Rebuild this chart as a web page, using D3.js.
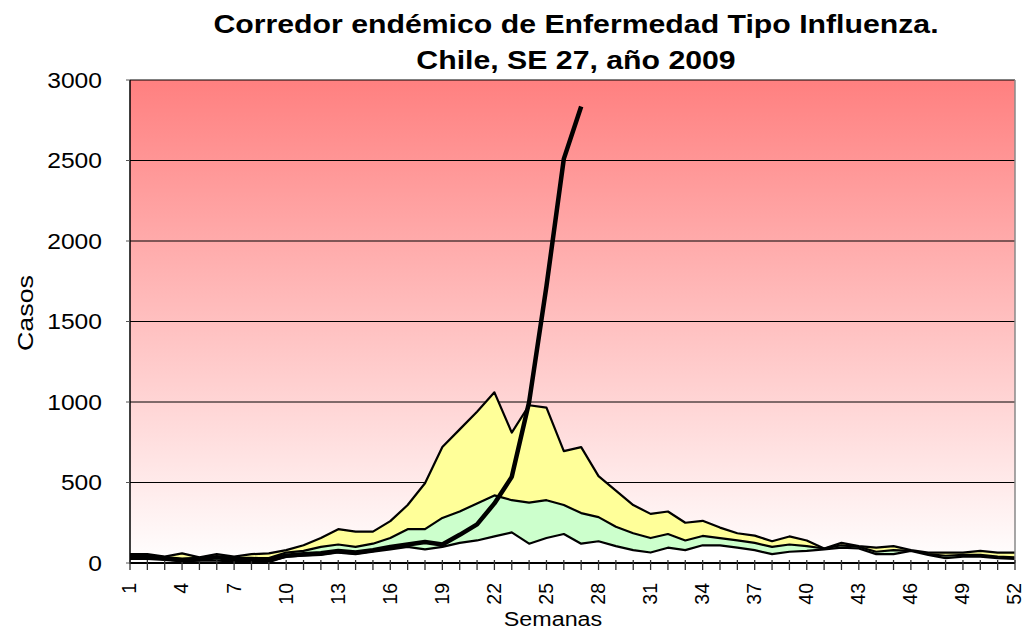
<!DOCTYPE html>
<html>
<head>
<meta charset="utf-8">
<script src="https://cdn.jsdelivr.net/npm/d3@7"></script>
<style>
  body { margin: 0; background: #fff; }
  svg text { font-family: "Liberation Sans", Arial, sans-serif; fill: #000; }
</style>
</head>
<body>
<svg id="chart" width="1024" height="632"></svg>
<script>
// semanas epidemiologicas 1..52
const weeks = d3.range(1, 53);
const weekTicks = d3.range(1, 53, 3);
const yTicks = [0, 500, 1000, 1500, 2000, 2500, 3000];

// limite superior (zona de alerta)
const upper = [55, 55, 40, 60, 35, 55, 40, 55, 60, 80, 110, 155, 210, 195, 195, 260, 360, 495,
  720, 830, 940, 1060, 810, 980, 965, 695, 720, 540, 450, 360, 305, 320, 250, 262,
  220, 185, 170, 135, 165, 140, 90, 125, 105, 95, 105, 80, 65, 65, 65, 75, 65, 65];
// mediana (zona de seguridad)
const median = [40, 40, 30, 25, 30, 35, 25, 30, 30, 65, 75, 100, 115, 100, 120, 155, 210, 210,
  280, 320, 370, 420, 390, 375, 390, 360, 310, 285, 225, 185, 155, 180, 140, 168,
  155, 140, 125, 100, 115, 105, 90, 110, 100, 70, 80, 75, 55, 45, 50, 50, 40, 35];
// limite inferior (zona de exito)
const lower = [25, 25, 20, 10, 15, 15, 10, 10, 5, 40, 45, 50, 65, 55, 70, 85, 100, 85,
  100, 125, 140, 165, 190, 120, 155, 180, 120, 135, 105, 80, 65, 95, 80, 110,
  110, 95, 80, 55, 70, 75, 85, 95, 90, 55, 55, 75, 50, 30, 40, 40, 30, 25];
// casos 2009 hasta SE 27
const cases2009 = [40, 40, 30, 20, 25, 35, 25, 25, 20, 45, 55, 60, 75, 65, 80, 100, 115, 130,
  115, 175, 240, 370, 535, 1000, 1720, 2510, 2835];

const svg = d3.select('#chart');
const plotLeft = 130;
const plotRight = 1015;
const plotTop = 80;
const plotBottom = 563;

const x = d3.scaleLinear().domain([1, 52]).range([plotLeft, plotRight]);
const y = d3.scaleLinear().domain([0, 3000]).range([plotBottom, plotTop]);

// fondo degradado (zona epidemica)
const defs = svg.append('defs');
const grad = defs.append('linearGradient')
  .attr('id', 'bg').attr('x1', 0).attr('y1', 0).attr('x2', 0).attr('y2', 1);
grad.append('stop').attr('offset', '0%').attr('stop-color', '#ff8080');
grad.append('stop').attr('offset', '100%').attr('stop-color', '#ffffff');

svg.append('rect')
  .attr('x', plotLeft).attr('y', plotTop)
  .attr('width', plotRight - plotLeft).attr('height', plotBottom - plotTop)
  .attr('fill', 'url(#bg)');

// lineas de grilla
svg.append('g')
  .selectAll('line')
  .data(yTicks.filter((d) => d > 0))
  .enter()
  .append('line')
  .attr('x1', plotLeft).attr('x2', plotRight)
  .attr('y1', (d) => y(d)).attr('y2', (d) => y(d))
  .attr('stroke', '#000').attr('stroke-width', 1);

const area = (values) => d3.area()
  .x((d, i) => x(weeks[i]))
  .y0(y(0))
  .y1((d) => y(d))(values);

const line = d3.line()
  .x((d, i) => x(weeks[i]))
  .y((d) => y(d));

const zones = [
  { values: upper, color: '#ffff99' },
  { values: median, color: '#ccffcc' },
  { values: lower, color: '#ffffff' },
];

const g = svg.append('g');
zones.forEach((z) => {
  g.append('path').attr('d', area(z.values)).attr('fill', z.color);
  g.append('path').attr('d', line(z.values))
    .attr('fill', 'none').attr('stroke', '#000')
    .attr('stroke-width', 2.2).attr('stroke-linejoin', 'round');
});

// borde del area de trazado
svg.append('line')
  .attr('x1', plotRight).attr('x2', plotRight).attr('y1', plotTop).attr('y2', plotBottom)
  .attr('stroke', '#888').attr('stroke-width', 1.5);

// ejes
svg.append('line')
  .attr('x1', plotLeft).attr('x2', plotLeft).attr('y1', plotTop).attr('y2', plotBottom + 1)
  .attr('stroke', '#000').attr('stroke-width', 1.5);
svg.append('line')
  .attr('x1', plotLeft).attr('x2', plotRight).attr('y1', plotBottom).attr('y2', plotBottom)
  .attr('stroke', '#000').attr('stroke-width', 2);

svg.append('g')
  .selectAll('line')
  .data(weeks)
  .enter()
  .append('line')
  .attr('x1', (d) => x(d)).attr('x2', (d) => x(d))
  .attr('y1', plotBottom - 3).attr('y2', plotBottom + 7)
  .attr('stroke', '#333').attr('stroke-width', 1.3);

svg.append('g')
  .selectAll('line')
  .data(yTicks)
  .enter()
  .append('line')
  .attr('x1', plotLeft - 4).attr('x2', plotLeft)
  .attr('y1', (d) => y(d)).attr('y2', (d) => y(d))
  .attr('stroke', '#555').attr('stroke-width', 1);

// casos 2009
svg.append('path')
  .attr('d', line(cases2009))
  .attr('fill', 'none').attr('stroke', '#000')
  .attr('stroke-width', 4.5).attr('stroke-linejoin', 'round');

// etiquetas eje Y (letra algo ensanchada, como en el original)
svg.append('g')
  .selectAll('text')
  .data(yTicks)
  .enter()
  .append('text')
  .attr('transform', (d) => `translate(102,${y(d)}) scale(1.12,1)`)
  .attr('dy', '0.35em')
  .attr('text-anchor', 'end')
  .attr('font-size', 22)
  .text((d) => d);

// etiquetas eje X (rotadas)
svg.append('g')
  .selectAll('text')
  .data(weekTicks)
  .enter()
  .append('text')
  .attr('transform', (d) => `translate(${x(d)},583) rotate(-90)`)
  .attr('dy', '0.33em')
  .attr('text-anchor', 'end')
  .attr('font-size', 19.5)
  .text((d) => d);

svg.append('text')
  .attr('transform', 'translate(553,626) scale(1.11,1)')
  .attr('text-anchor', 'middle')
  .attr('font-size', 21)
  .text('Semanas');

svg.append('text')
  .attr('transform', 'translate(33,313) rotate(-90) scale(1.22,1)')
  .attr('text-anchor', 'middle')
  .attr('font-size', 22)
  .text('Casos');

const title = svg.append('text')
  .attr('transform', 'translate(576,0) scale(1.21,1)')
  .attr('text-anchor', 'middle')
  .attr('font-size', 25)
  .attr('font-weight', 'bold');
title.append('tspan').attr('x', 0).attr('y', 33)
  .text('Corredor endémico de Enfermedad Tipo Influenza.');
title.append('tspan').attr('x', 0).attr('y', 69)
  .text('Chile, SE 27, año 2009');
</script>
</body>
</html>
